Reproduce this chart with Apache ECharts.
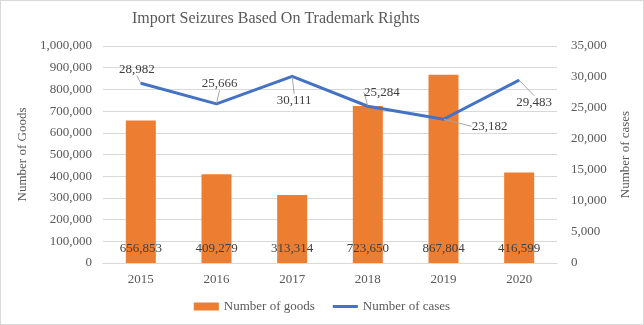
<!DOCTYPE html>
<html><head><meta charset="utf-8">
<script src="https://cdn.jsdelivr.net/npm/echarts@6/dist/echarts.min.js"></script>
<style>html,body{margin:0;padding:0;background:#fff}#c{width:642px;height:323px;border:1px solid #d9d9d9}</style>
</head><body><div id="c"></div>
<script>
var categories = ['2015','2016','2017','2018','2019','2020'];
var goods = [656853, 409279, 313314, 723650, 867804, 416599];
var cases = [28982, 25666, 30111, 25284, 23182, 29483];
var leftTicks = {min:0, max:1000000, interval:100000};
var rightTicks = {min:0, max:35000, interval:5000};
var labelShift = [[-4,-14],[3,-20],[2,24],[14,-14],[46,7],[15,22]];
var FONT = 'Liberation Serif';
var chart = echarts.init(document.getElementById('c'));
chart.setOption({
  animation:false,
  textStyle:{fontFamily:FONT},
  title:{text:'Import Seizures Based On Trademark Rights',left:126,top:5,
    textStyle:{fontFamily:FONT,fontSize:16,fontWeight:'normal',color:'#595959'}},
  grid:{left:102,right:86,top:45,bottom:61},
  legend:{bottom:6,left:'center',itemGap:18,itemWidth:25,itemHeight:8,
    textStyle:{fontFamily:FONT,fontSize:13,color:'#595959'},
    data:[{name:'Number of goods',icon:'rect'},{name:'Number of cases',icon:'path://M0,2.5L25,2.5L25,5.5L0,5.5Z'}]},
  xAxis:{type:'category',data:categories,
    axisLine:{lineStyle:{color:'#d9d9d9'}},axisTick:{show:false},
    axisLabel:{color:'#595959',fontFamily:FONT,fontSize:13,margin:10}},
  yAxis:[
    {type:'value',min:leftTicks.min,max:leftTicks.max,interval:leftTicks.interval,
     name:'Number of Goods',nameLocation:'middle',nameGap:70,nameRotate:90,
     nameTextStyle:{color:'#595959',fontFamily:FONT,fontSize:13},
     axisLabel:{color:'#595959',fontFamily:FONT,fontSize:13,margin:11,
       formatter:function(v){return v.toLocaleString('en-US');}},
     splitLine:{lineStyle:{color:'#d9d9d9'}}},
    {type:'value',min:rightTicks.min,max:rightTicks.max,interval:rightTicks.interval,
     name:'Number of cases',nameLocation:'middle',nameGap:62,nameRotate:90,
     nameTextStyle:{color:'#595959',fontFamily:FONT,fontSize:13},
     axisLabel:{color:'#595959',fontFamily:FONT,fontSize:13,margin:14,
       formatter:function(v){return v.toLocaleString('en-US');}},
     splitLine:{show:false}}
  ],
  series:[
    {name:'Number of goods',type:'bar',data:goods,barWidth:30,yAxisIndex:0,
     itemStyle:{color:'#ED7D31'},
     label:{show:true,position:'insideBottom',distance:8,color:'#404040',fontFamily:FONT,fontSize:13,
       formatter:function(p){return p.value.toLocaleString('en-US');}}},
    {name:'Number of cases',type:'line',data:cases,yAxisIndex:1,
     symbol:'circle',symbolSize:1,showSymbol:true,
     lineStyle:{color:'#4472C4',width:3},itemStyle:{color:'#4472C4'},
     label:{show:true,position:'inside',color:'#404040',fontFamily:FONT,fontSize:13,
       formatter:function(p){return p.value.toLocaleString('en-US');}},
     labelLine:{show:true,lineStyle:{color:'#a6a6a6',width:1}},
     labelLayout:function(p){var s=labelShift[p.dataIndex];return {dx:s[0],dy:s[1]};}}
  ]
});
</script></body></html>
